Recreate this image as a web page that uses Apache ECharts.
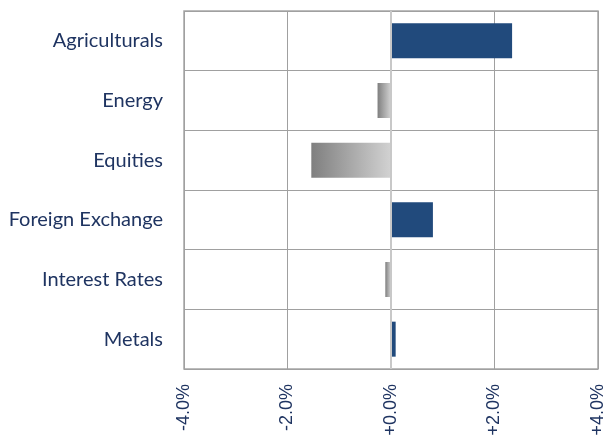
<!DOCTYPE html>
<html>
<head>
<meta charset="utf-8">
<script src="https://cdn.jsdelivr.net/npm/echarts@6/dist/echarts.min.js"></script>
<style>
    html, body { margin: 0; padding: 0; background: #fff; }
    #chart { width: 608px; height: 439px; }
</style>
</head>
<body>
<div id="chart"></div>
<script>
/* 数据 */
let categories = ['Agriculturals', 'Energy', 'Equities', 'Foreign Exchange', 'Interest Rates', 'Metals'];
let returns = [2.34, -0.26, -1.54, 0.81, -0.11, 0.09];

let labelColor = '#1f3461';
let posColor = '#214a7c';
let negColor = new echarts.graphic.LinearGradient(0, 0, 1, 0, [
    { offset: 0, color: '#7f7f7f' },
    { offset: 1, color: '#d2d2d2' }
]);

let chart = echarts.init(document.getElementById('chart'), null, { renderer: 'canvas' });
let option = {
    animation: false,
    grid: {
        left: 184,
        right: 10,
        top: 11,
        bottom: 70,
        show: true,
        borderColor: '#a6a6a6',
        borderWidth: 1.5
    },
    xAxis: {
        type: 'value',
        min: -4,
        max: 4,
        interval: 2,
        axisLine: { show: false },
        axisTick: { show: false },
        splitLine: { lineStyle: { color: '#a0a0a0', width: 1 } },
        axisLabel: {
            rotate: 90,
            margin: 15,
            color: labelColor,
            fontFamily: 'Liberation Sans',
            fontSize: 18,
            formatter: function (v) {
                return (v >= 0 ? '+' : '') + v.toFixed(1) + '%';
            }
        }
    },
    yAxis: {
        type: 'category',
        inverse: true,
        data: categories,
        axisLine: { show: false },
        axisTick: { show: false },
        splitLine: { show: true, lineStyle: { color: '#a0a0a0', width: 1 } },
        axisLabel: {
            margin: 21,
            color: labelColor,
            fontFamily: 'Lato',
            fontSize: 20
        }
    },
    series: [
        {
            type: 'bar',
            barWidth: 35,
            data: returns.map(function (v) {
                return { value: v, itemStyle: { color: v >= 0 ? posColor : negColor } };
            }),
            markLine: {
                silent: true,
                symbol: 'none',
                label: { show: false },
                lineStyle: { color: '#c8c8c8', width: 2, type: 'solid' },
                data: [{ xAxis: 0 }]
            }
        }
    ]
};
chart.setOption(option);

window.addEventListener('resize', function () {
    chart.resize();
});
</script>
</body>
</html>
